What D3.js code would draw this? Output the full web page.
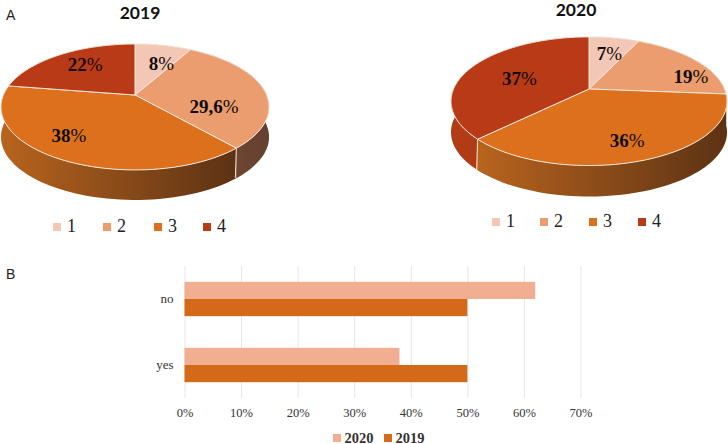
<!DOCTYPE html>
<html><head><meta charset="utf-8">
<script src="https://cdn.jsdelivr.net/npm/d3@7"></script>
<style>html,body{margin:0;padding:0;background:#fff}svg{display:block}</style>
</head><body><div id="c"></div>
<script>
// ---- data ----
const pieCategories = ["1","2","3","4"];
const values2019 = [8,29.6,38,22];
const labels2019 = ["8%","29,6%","38%","22%"];
const values2020 = [7,19,36,37];
const labels2020 = ["7%","19%","36%","37%"];
const barCategories = ["no","yes"];
const barSeries = ["2020","2019"];
const bars2020 = [62,38];
const bars2019 = [50,50];
const barTicks = [0,10,20,30,40,50,60,70];

// ---- style ----
const serif = "'Liberation Serif',serif";
const pieColors = ["#f2c7b6","#ec9d6f","#dc701c","#b83a17"];
const sideColors = [["#c09080","#a07060"],["#7a4c32","#654030"],["#b8641e","#5c3214"],["#b23c16","#a33512"]];
const barColors = {"2020":"#f2ae90","2019":"#d46a17"};
const W=728,H=444;
const svg=d3.select("#c").append("svg").attr("width",W).attr("height",H);
const defs=svg.append("defs");
sideColors.forEach((c,i)=>{
  const g=defs.append("linearGradient").attr("id","side"+i).attr("x1",0).attr("x2",1).attr("y1",0).attr("y2",0);
  g.append("stop").attr("offset",0).attr("stop-color",c[0]);
  g.append("stop").attr("offset",1).attr("stop-color",c[1]);
});

function drawPie(o){
  const k=0.19;
  const proj=(theta,r=1)=>{
    const u=Math.sin(theta)*r,v=Math.cos(theta)*r,w=1+k*v;
    return [o.cx+o.R*u/w,o.cy-o.H*v/w];
  };
  const arcs=d3.pie().sort(null)(o.values);
  const g=svg.append("g");
  const rim=a=>d3.range(0,61).map(i=>proj(a.startAngle+(a.endAngle-a.startAngle)*i/60));
  const line=d3.line();
  // sides, back to front
  const order=arcs.map((a,i)=>i).sort((p,q)=>Math.cos((arcs[q].startAngle+arcs[q].endAngle)/2)-Math.cos((arcs[p].startAngle+arcs[p].endAngle)/2));
  order.forEach(i=>{
    const pts=rim(arcs[i]);
    const low=pts.slice().reverse().map(p=>[p[0],p[1]+o.depth]);
    g.append("path").attr("d",line(pts.concat(low))+"Z")
      .attr("fill","url(#side"+i+")");
  });
  // light seams on the side wall at visible slice boundaries
  arcs.forEach(a=>{
    const c=Math.cos(a.startAngle);
    if(c<-0.3){
      const p=proj(a.startAngle);
      g.append("line").attr("x1",p[0]).attr("x2",p[0]-1).attr("y1",p[1]).attr("y2",p[1]+o.depth)
        .attr("stroke","#f3dccb").attr("stroke-width",1);
    }
  });
  // top faces
  arcs.forEach((a,i)=>{
    g.append("path").attr("d",line([proj(0,0)].concat(rim(a)))+"Z")
      .attr("fill",pieColors[i]).attr("stroke","#f8e6d8").attr("stroke-width",1).attr("stroke-linejoin","round");
  });
  // labels
  arcs.forEach((a,i)=>{
    const p=proj((a.startAngle+a.endAngle)/2,0.65);
    const num=o.labels[i].replace("%","");
    const t=g.append("text").attr("x",p[0]+o.nudge[i][0]).attr("y",p[1]+o.nudge[i][1]).attr("dy","0.35em")
      .attr("text-anchor","middle").attr("font-family",serif).attr("font-size",19).attr("fill","#120c08");
    t.append("tspan").attr("font-weight","bold").text(num);
    t.append("tspan").text("%");
  });
  // title
  svg.append("text").attr("x",o.titleX).attr("y",o.titleY).attr("text-anchor","middle")
    .attr("font-family","Lato,sans-serif").attr("font-weight","bold").attr("font-size",17.5).attr("fill","#111").text(o.title);
  // legend
  pieCategories.forEach((c,i)=>{
    svg.append("rect").attr("x",o.legendX[i]).attr("y",o.legendY).attr("width",8).attr("height",8).attr("fill",pieColors[i]);
    svg.append("text").attr("x",o.legendX[i]+14).attr("y",o.legendY+9).attr("font-family",serif).attr("font-size",18).attr("fill","#222").text(c);
  });
}

drawPie({values:values2019,labels:labels2019,title:"2019",cx:135,cy:95,R:131.6,H:60.7,depth:30,titleX:140,titleY:19,
  legendX:[53,103,154,203],legendY:223,nudge:[[7,2],[-5,15],[-20,2],[1,-3]]});
drawPie({values:values2020,labels:labels2020,title:"2020",cx:589,cy:89,R:135.5,H:62,depth:31,titleX:576,titleY:16,
  legendX:[492,540,589,638],legendY:218,nudge:[[3,-1],[30,6],[4,9],[8,4]]});

// panel letters
[["A",6,20],["B",6,279]].forEach(d=>{
  svg.append("text").attr("x",d[1]).attr("y",d[2]).attr("font-family","'Liberation Sans',sans-serif").attr("font-size",14).attr("fill","#222").text(d[0]);
});

// bar chart
const x=d3.scaleLinear().domain([0,70]).range([184.5,580.5]);
const y=d3.scaleBand().domain(barCategories).range([266,398]);
const y2=d3.scaleBand().domain(barSeries).range([0,y.bandwidth()]).paddingInner(0).paddingOuter(0.92);
const ax=svg.append("g").attr("transform","translate(0,398)")
  .call(d3.axisBottom(x).tickValues(barTicks).tickFormat(d=>d+"%").tickSize(-132).tickPadding(10));
ax.select(".domain").remove();
ax.selectAll("line").attr("stroke","#e6e6e6");
ax.selectAll("text").attr("font-family",serif).attr("font-size",12.5).attr("fill","#333");
const seriesVals={"2020":bars2020,"2019":bars2019};
barSeries.forEach(s=>{
  svg.append("g").selectAll("rect").data(barCategories).join("rect")
    .attr("x",x(0)).attr("y",c=>y(c)+y2(s)).attr("height",y2.bandwidth())
    .attr("width",(c,i)=>x(seriesVals[s][i])-x(0)).attr("fill",barColors[s]);
});
const ay=svg.append("g").attr("transform","translate(184.5,0)").call(d3.axisLeft(y).tickSize(0).tickPadding(11));
ay.select(".domain").remove();
ay.selectAll("text").attr("font-family",serif).attr("font-size",13).attr("fill","#333");
// bar legend
const lx={"2020":333,"2019":384};
barSeries.forEach(s=>{
  svg.append("rect").attr("x",lx[s]).attr("y",434).attr("width",8).attr("height",8).attr("fill",barColors[s]);
  svg.append("text").attr("x",lx[s]+11.5).attr("y",442.5).attr("font-family",serif).attr("font-weight","bold").attr("font-size",14.5).attr("fill","#333").text(s);
});
</script></body></html>
